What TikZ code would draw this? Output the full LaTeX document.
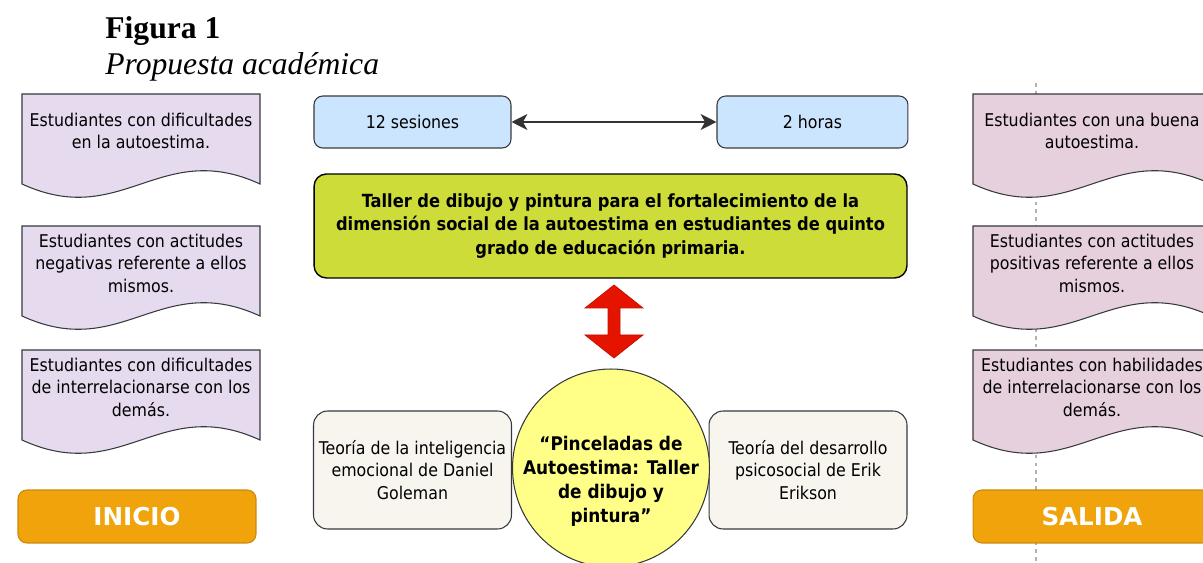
\documentclass[tikz,border=0pt]{standalone}
\usepackage{fontspec}
\setmainfont{DejaVu Sans Condensed}
\newfontfamily\anchafont{DejaVu Sans}
\newfontfamily\serifafont{Liberation Serif}
\usetikzlibrary{positioning, shapes.geometric, arrows, arrows.meta}

\definecolor{lila}{HTML}{E6DAEE}
\definecolor{rosa}{HTML}{E6D0DE}
\definecolor{celeste}{HTML}{CCE5FF}
\definecolor{lima}{HTML}{CDDC39}
\definecolor{crema}{HTML}{F7F5EE}
\definecolor{amarillo}{HTML}{FFFF88}
\definecolor{naranja}{HTML}{F0A30A}
\definecolor{naranjaborde}{HTML}{C98A0A}
\definecolor{rojo}{HTML}{E51400}
\definecolor{borde}{HTML}{36393D}

\tikzset{
  normal/.style = {font=\fontsize{10}{12.8}\selectfont, align=center},
  tiempo/.style = {normal, draw=borde, fill=celeste, line width=0.6pt, rounded corners=5pt,
                   minimum width=3.94cm, minimum height=1.04cm, inner sep=0pt},
  taller/.style = {draw=black, fill=lima, line width=0.8pt, rounded corners=7pt, align=center,
                   font=\fontsize{10.3}{13.3}\selectfont\bfseries,
                   minimum width=11.86cm, minimum height=2.08cm, inner sep=0pt},
  teoria/.style = {normal, draw=borde, fill=crema, line width=0.6pt, rounded corners=8pt,
                   minimum width=3.96cm, minimum height=2.36cm, inner sep=0pt},
  etapa/.style = {draw=naranjaborde, fill=naranja, line width=0.6pt, rounded corners=5pt, text=white,
                  font=\fontsize{14}{16}\anchafont\bfseries, minimum width=4.76cm, minimum height=1.06cm, inner sep=0pt},
  flecha/.style = {draw=black!80, line width=1.2pt, {Stealth[length=9pt, width=9pt, inset=2.5pt]}-{Stealth[length=9pt, width=9pt, inset=2.5pt]}},
  guia/.style = {draw=black!30, line width=0.6pt, dash pattern=on 2pt off 2.5pt},
  hojaborde/.style = {draw=borde, line width=0.6pt},
  hojatexto/.style = {normal, inner sep=0pt},
  pics/hoja/.style 2 args = {code={
    \draw [hojaborde, fill=#1] (0,0) -- (238,0) -- (238,90)
      .. controls (138,44) and (100,136) .. (0,90) -- cycle;
    \node [hojatexto] (-t) at (119,37) {#2};
  }}
}

\begin{document}
\begin{tikzpicture}[x=0.02cm, y=-0.02cm]
    \useasboundingbox (0,0) rectangle (1203,563);
    \clip (0,0) rectangle (1203,563);

    % titulo
    \node [anchor=base west, inner sep=0pt, font=\fontsize{18}{20}\serifafont\bfseries] (figura) at (105,39) {Figura 1};
    \node [anchor=base west, inner sep=0pt, font=\fontsize{18}{20}\serifafont\itshape] (propuesta) at (105,75) {Propuesta académica};

    % linea de salida
    \coordinate (guia-a) at (1036,83);
    \coordinate (guia-b) at (1036,563);
    \draw [guia] (guia-a) -- (guia-b);

    % inicio
    \pic (ini1) at (22,94) {hoja={lila}{Estudiantes con dificultades\\en la autoestima.}};
    \pic (ini2) at (22,226) {hoja={lila}{Estudiantes con actitudes\\negativas referente a ellos\\mismos.}};
    \pic (ini3) at (22,350) {hoja={lila}{Estudiantes con dificultades\\de interrelacionarse con los\\demás.}};
    \node [etapa] (inicio) at (137,516.5) {INICIO};

    % salida
    \pic (sal1) at (973,94) {hoja={rosa}{Estudiantes con una buena\\autoestima.}};
    \pic (sal2) at (973,226) {hoja={rosa}{Estudiantes con actitudes\\positivas referente a ellos\\mismos.}};
    \pic (sal3) at (973,350) {hoja={rosa}{Estudiantes con habilidades\\de interrelacionarse con los\\demás.}};
    \node [etapa] (salida) at (1092,516.5) {SALIDA};

    % propuesta
    \node [tiempo] (sesiones) at (412.5,122) {12 sesiones};
    \node [tiempo, minimum width=3.82cm, right = 4.1cm of sesiones] (horas) {2 horas};
    \draw [flecha] (sesiones) -- (horas);

    \node [taller] (taller) at (610.5,226) {Taller de dibujo y pintura para el fortalecimiento de la\\dimensión social de la autoestima en estudiantes de quinto\\grado de educación primaria.};

    \fill [rojo, draw=rojo!85!black, line width=0.4pt] (614,285) -- (643,308) -- (620,308) -- (620,335) -- (643,335)
        -- (614,358) -- (585,335) -- (608,335) -- (608,308) -- (585,308) -- cycle;

    \node [teoria] (goleman) at (412.5,470) {Teoría de la inteligencia\\emocional de Daniel\\Goleman};
    \node [teoria] (erikson) at (808,470) {Teoría del desarrollo\\psicosocial de Erik\\Erikson};
    \coordinate (centro) at (611,468);
    \draw [draw=borde, fill=amarillo, line width=0.6pt] (centro) ellipse [x radius=1.97cm, y radius=1.98cm];
    \node [align=center, inner sep=0pt, font=\fontsize{10.7}{13.7}\selectfont\bfseries] (pinceladas) at (611,481)
          {“Pinceladas de\\Autoestima: Taller\\de dibujo y\\pintura”};
\end{tikzpicture}
\end{document}
